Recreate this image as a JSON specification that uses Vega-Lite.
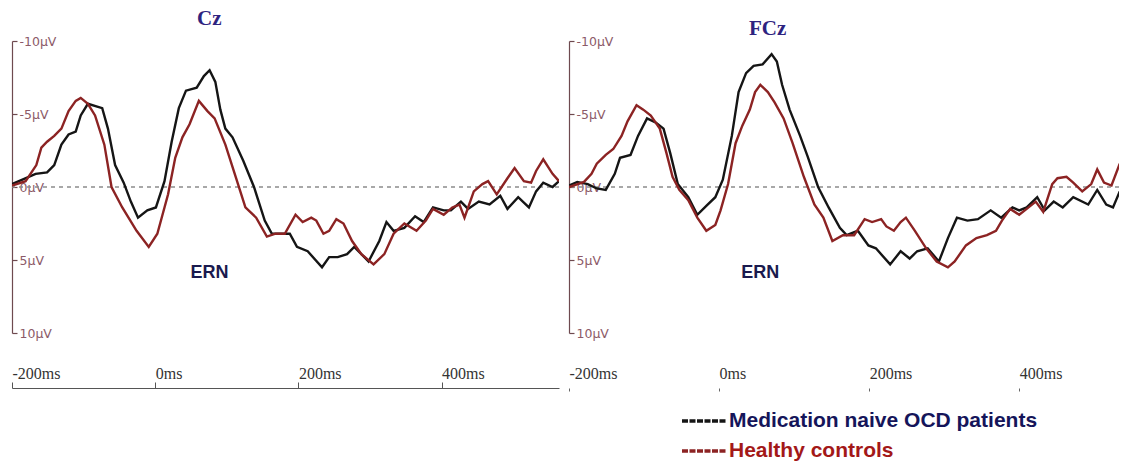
{
  "$schema": "https://vega.github.io/schema/vega-lite/v6.json",
  "background": "white",
  "padding": {"left": 11, "top": 8, "right": 0, "bottom": 0},
  "config": {"view": {"stroke": null}, "font": "Liberation Sans"},
  "datasets": {
    "cz": [
      {"ms": -200, "uv": -0.2, "g": "OCD"}, {"ms": -167, "uv": -0.9, "g": "OCD"}, {"ms": -151, "uv": -1.0, "g": "OCD"}, {"ms": -141, "uv": -1.5, "g": "OCD"},
      {"ms": -131, "uv": -2.9, "g": "OCD"}, {"ms": -121, "uv": -3.6, "g": "OCD"}, {"ms": -111, "uv": -3.8, "g": "OCD"}, {"ms": -104, "uv": -4.9, "g": "OCD"},
      {"ms": -94, "uv": -5.7, "g": "OCD"}, {"ms": -81, "uv": -5.5, "g": "OCD"}, {"ms": -74, "uv": -5.4, "g": "OCD"}, {"ms": -66, "uv": -4.0, "g": "OCD"},
      {"ms": -56, "uv": -1.5, "g": "OCD"}, {"ms": -44, "uv": -0.3, "g": "OCD"}, {"ms": -34, "uv": 1.0, "g": "OCD"}, {"ms": -24, "uv": 2.1, "g": "OCD"},
      {"ms": -11, "uv": 1.6, "g": "OCD"}, {"ms": 1, "uv": 1.4, "g": "OCD"}, {"ms": 13, "uv": -0.4, "g": "OCD"}, {"ms": 23, "uv": -3.1, "g": "OCD"},
      {"ms": 33, "uv": -5.4, "g": "OCD"}, {"ms": 43, "uv": -6.6, "g": "OCD"}, {"ms": 58, "uv": -6.8, "g": "OCD"}, {"ms": 68, "uv": -7.6, "g": "OCD"},
      {"ms": 76, "uv": -8.0, "g": "OCD"}, {"ms": 84, "uv": -7.2, "g": "OCD"}, {"ms": 91, "uv": -5.3, "g": "OCD"}, {"ms": 98, "uv": -4.0, "g": "OCD"},
      {"ms": 108, "uv": -3.4, "g": "OCD"}, {"ms": 123, "uv": -1.8, "g": "OCD"}, {"ms": 138, "uv": 0.0, "g": "OCD"}, {"ms": 153, "uv": 2.3, "g": "OCD"},
      {"ms": 163, "uv": 3.2, "g": "OCD"}, {"ms": 178, "uv": 3.2, "g": "OCD"}, {"ms": 188, "uv": 3.2, "g": "OCD"}, {"ms": 198, "uv": 4.1, "g": "OCD"},
      {"ms": 213, "uv": 4.4, "g": "OCD"}, {"ms": 233, "uv": 5.5, "g": "OCD"}, {"ms": 243, "uv": 4.8, "g": "OCD"}, {"ms": 255, "uv": 4.8, "g": "OCD"},
      {"ms": 268, "uv": 4.6, "g": "OCD"}, {"ms": 278, "uv": 4.1, "g": "OCD"}, {"ms": 298, "uv": 5.1, "g": "OCD"}, {"ms": 313, "uv": 3.7, "g": "OCD"},
      {"ms": 323, "uv": 2.4, "g": "OCD"}, {"ms": 333, "uv": 3.0, "g": "OCD"}, {"ms": 348, "uv": 2.8, "g": "OCD"}, {"ms": 363, "uv": 2.0, "g": "OCD"},
      {"ms": 375, "uv": 2.4, "g": "OCD"}, {"ms": 388, "uv": 1.4, "g": "OCD"}, {"ms": 403, "uv": 1.6, "g": "OCD"}, {"ms": 413, "uv": 1.6, "g": "OCD"},
      {"ms": 427, "uv": 1.0, "g": "OCD"}, {"ms": 437, "uv": 1.5, "g": "OCD"}, {"ms": 452, "uv": 1.0, "g": "OCD"}, {"ms": 467, "uv": 1.2, "g": "OCD"},
      {"ms": 482, "uv": 0.6, "g": "OCD"}, {"ms": 492, "uv": 1.5, "g": "OCD"}, {"ms": 507, "uv": 0.7, "g": "OCD"}, {"ms": 522, "uv": 1.4, "g": "OCD"},
      {"ms": 532, "uv": 0.3, "g": "OCD"}, {"ms": 542, "uv": -0.3, "g": "OCD"}, {"ms": 555, "uv": 0.0, "g": "OCD"}, {"ms": 564, "uv": -0.4, "g": "OCD"},
      {"ms": -200, "uv": -0.1, "g": "HC"}, {"ms": -181, "uv": -0.4, "g": "HC"}, {"ms": -166, "uv": -1.5, "g": "HC"}, {"ms": -159, "uv": -2.7, "g": "HC"},
      {"ms": -151, "uv": -3.1, "g": "HC"}, {"ms": -141, "uv": -3.5, "g": "HC"}, {"ms": -131, "uv": -4.0, "g": "HC"}, {"ms": -121, "uv": -5.2, "g": "HC"},
      {"ms": -111, "uv": -5.9, "g": "HC"}, {"ms": -104, "uv": -6.1, "g": "HC"}, {"ms": -94, "uv": -5.7, "g": "HC"}, {"ms": -84, "uv": -4.9, "g": "HC"},
      {"ms": -71, "uv": -2.9, "g": "HC"}, {"ms": -61, "uv": 0.0, "g": "HC"}, {"ms": -46, "uv": 1.4, "g": "HC"}, {"ms": -26, "uv": 3.0, "g": "HC"},
      {"ms": -9, "uv": 4.1, "g": "HC"}, {"ms": 3, "uv": 3.2, "g": "HC"}, {"ms": 18, "uv": 0.5, "g": "HC"}, {"ms": 28, "uv": -2.0, "g": "HC"},
      {"ms": 38, "uv": -3.4, "g": "HC"}, {"ms": 48, "uv": -4.3, "g": "HC"}, {"ms": 61, "uv": -5.9, "g": "HC"}, {"ms": 73, "uv": -5.2, "g": "HC"},
      {"ms": 83, "uv": -4.7, "g": "HC"}, {"ms": 98, "uv": -2.9, "g": "HC"}, {"ms": 113, "uv": -0.6, "g": "HC"}, {"ms": 126, "uv": 1.4, "g": "HC"},
      {"ms": 141, "uv": 2.1, "g": "HC"}, {"ms": 156, "uv": 3.4, "g": "HC"}, {"ms": 168, "uv": 3.2, "g": "HC"}, {"ms": 181, "uv": 3.2, "g": "HC"},
      {"ms": 196, "uv": 1.9, "g": "HC"}, {"ms": 206, "uv": 2.4, "g": "HC"}, {"ms": 218, "uv": 2.1, "g": "HC"}, {"ms": 225, "uv": 2.3, "g": "HC"},
      {"ms": 235, "uv": 3.2, "g": "HC"}, {"ms": 243, "uv": 3.0, "g": "HC"}, {"ms": 253, "uv": 2.2, "g": "HC"}, {"ms": 263, "uv": 2.5, "g": "HC"},
      {"ms": 275, "uv": 3.7, "g": "HC"}, {"ms": 288, "uv": 4.6, "g": "HC"}, {"ms": 305, "uv": 5.3, "g": "HC"}, {"ms": 320, "uv": 4.6, "g": "HC"},
      {"ms": 333, "uv": 3.2, "g": "HC"}, {"ms": 348, "uv": 2.5, "g": "HC"}, {"ms": 365, "uv": 3.0, "g": "HC"}, {"ms": 378, "uv": 2.3, "g": "HC"},
      {"ms": 388, "uv": 1.5, "g": "HC"}, {"ms": 403, "uv": 1.9, "g": "HC"}, {"ms": 415, "uv": 1.4, "g": "HC"}, {"ms": 425, "uv": 1.2, "g": "HC"},
      {"ms": 432, "uv": 2.1, "g": "HC"}, {"ms": 445, "uv": 0.3, "g": "HC"}, {"ms": 457, "uv": -0.2, "g": "HC"}, {"ms": 465, "uv": -0.4, "g": "HC"},
      {"ms": 477, "uv": 0.5, "g": "HC"}, {"ms": 492, "uv": -0.6, "g": "HC"}, {"ms": 502, "uv": -1.3, "g": "HC"}, {"ms": 515, "uv": -0.4, "g": "HC"},
      {"ms": 525, "uv": -0.3, "g": "HC"}, {"ms": 532, "uv": -1.1, "g": "HC"}, {"ms": 542, "uv": -1.9, "g": "HC"}, {"ms": 555, "uv": -0.9, "g": "HC"},
      {"ms": 564, "uv": -0.4, "g": "HC"}
    ],
    "fcz": [
      {"ms": -200, "uv": -0.1, "g": "OCD"}, {"ms": -189, "uv": -0.35, "g": "OCD"}, {"ms": -175, "uv": -0.2, "g": "OCD"}, {"ms": -163, "uv": 0.1, "g": "OCD"},
      {"ms": -151, "uv": 0.2, "g": "OCD"}, {"ms": -139, "uv": -0.9, "g": "OCD"}, {"ms": -132, "uv": -2.0, "g": "OCD"}, {"ms": -118, "uv": -2.2, "g": "OCD"},
      {"ms": -108, "uv": -3.5, "g": "OCD"}, {"ms": -96, "uv": -4.7, "g": "OCD"}, {"ms": -84, "uv": -4.4, "g": "OCD"}, {"ms": -74, "uv": -4.0, "g": "OCD"},
      {"ms": -65, "uv": -2.3, "g": "OCD"}, {"ms": -55, "uv": -0.2, "g": "OCD"}, {"ms": -41, "uv": 0.7, "g": "OCD"}, {"ms": -29, "uv": 1.9, "g": "OCD"},
      {"ms": -17, "uv": 1.3, "g": "OCD"}, {"ms": -5, "uv": 0.7, "g": "OCD"}, {"ms": 5, "uv": -0.5, "g": "OCD"}, {"ms": 17, "uv": -3.5, "g": "OCD"},
      {"ms": 26, "uv": -6.5, "g": "OCD"}, {"ms": 36, "uv": -7.8, "g": "OCD"}, {"ms": 46, "uv": -8.3, "g": "OCD"}, {"ms": 58, "uv": -8.4, "g": "OCD"},
      {"ms": 70, "uv": -9.1, "g": "OCD"}, {"ms": 77, "uv": -8.6, "g": "OCD"}, {"ms": 84, "uv": -7.0, "g": "OCD"}, {"ms": 94, "uv": -5.3, "g": "OCD"},
      {"ms": 108, "uv": -3.5, "g": "OCD"}, {"ms": 118, "uv": -2.1, "g": "OCD"}, {"ms": 132, "uv": 0.0, "g": "OCD"}, {"ms": 146, "uv": 1.4, "g": "OCD"},
      {"ms": 161, "uv": 2.8, "g": "OCD"}, {"ms": 170, "uv": 3.3, "g": "OCD"}, {"ms": 185, "uv": 3.0, "g": "OCD"}, {"ms": 199, "uv": 4.0, "g": "OCD"},
      {"ms": 209, "uv": 4.2, "g": "OCD"}, {"ms": 228, "uv": 5.3, "g": "OCD"}, {"ms": 242, "uv": 4.4, "g": "OCD"}, {"ms": 254, "uv": 4.9, "g": "OCD"},
      {"ms": 264, "uv": 4.4, "g": "OCD"}, {"ms": 278, "uv": 4.2, "g": "OCD"}, {"ms": 293, "uv": 5.1, "g": "OCD"}, {"ms": 305, "uv": 3.5, "g": "OCD"},
      {"ms": 317, "uv": 2.1, "g": "OCD"}, {"ms": 331, "uv": 2.3, "g": "OCD"}, {"ms": 345, "uv": 2.2, "g": "OCD"}, {"ms": 362, "uv": 1.6, "g": "OCD"},
      {"ms": 376, "uv": 2.1, "g": "OCD"}, {"ms": 391, "uv": 1.4, "g": "OCD"}, {"ms": 400, "uv": 1.6, "g": "OCD"}, {"ms": 410, "uv": 1.4, "g": "OCD"},
      {"ms": 424, "uv": 0.7, "g": "OCD"}, {"ms": 434, "uv": 1.6, "g": "OCD"}, {"ms": 446, "uv": 1.0, "g": "OCD"}, {"ms": 458, "uv": 1.4, "g": "OCD"},
      {"ms": 472, "uv": 0.7, "g": "OCD"}, {"ms": 492, "uv": 1.2, "g": "OCD"}, {"ms": 504, "uv": 0.2, "g": "OCD"}, {"ms": 516, "uv": 1.2, "g": "OCD"},
      {"ms": 525, "uv": 1.4, "g": "OCD"}, {"ms": 534, "uv": 0.3, "g": "OCD"},
      {"ms": -200, "uv": 0.0, "g": "HC"}, {"ms": -180, "uv": -0.35, "g": "HC"}, {"ms": -170, "uv": -0.9, "g": "HC"}, {"ms": -163, "uv": -1.6, "g": "HC"},
      {"ms": -151, "uv": -2.2, "g": "HC"}, {"ms": -141, "uv": -2.6, "g": "HC"}, {"ms": -130, "uv": -3.5, "g": "HC"}, {"ms": -122, "uv": -4.5, "g": "HC"},
      {"ms": -110, "uv": -5.6, "g": "HC"}, {"ms": -101, "uv": -5.3, "g": "HC"}, {"ms": -91, "uv": -4.9, "g": "HC"}, {"ms": -79, "uv": -4.0, "g": "HC"},
      {"ms": -70, "uv": -2.3, "g": "HC"}, {"ms": -62, "uv": -0.7, "g": "HC"}, {"ms": -53, "uv": 0.2, "g": "HC"}, {"ms": -41, "uv": 0.9, "g": "HC"},
      {"ms": -29, "uv": 2.1, "g": "HC"}, {"ms": -17, "uv": 3.0, "g": "HC"}, {"ms": -5, "uv": 2.6, "g": "HC"}, {"ms": 2, "uv": 1.6, "g": "HC"},
      {"ms": 12, "uv": -0.2, "g": "HC"}, {"ms": 22, "uv": -3.0, "g": "HC"}, {"ms": 31, "uv": -4.2, "g": "HC"}, {"ms": 41, "uv": -5.3, "g": "HC"},
      {"ms": 48, "uv": -6.5, "g": "HC"}, {"ms": 55, "uv": -7.0, "g": "HC"}, {"ms": 65, "uv": -6.5, "g": "HC"}, {"ms": 74, "uv": -5.8, "g": "HC"},
      {"ms": 86, "uv": -4.7, "g": "HC"}, {"ms": 98, "uv": -3.0, "g": "HC"}, {"ms": 113, "uv": -0.7, "g": "HC"}, {"ms": 127, "uv": 1.2, "g": "HC"},
      {"ms": 139, "uv": 2.1, "g": "HC"}, {"ms": 151, "uv": 3.7, "g": "HC"}, {"ms": 165, "uv": 3.3, "g": "HC"}, {"ms": 180, "uv": 3.3, "g": "HC"},
      {"ms": 194, "uv": 2.2, "g": "HC"}, {"ms": 204, "uv": 2.4, "g": "HC"}, {"ms": 216, "uv": 2.2, "g": "HC"}, {"ms": 223, "uv": 2.7, "g": "HC"},
      {"ms": 233, "uv": 3.0, "g": "HC"}, {"ms": 242, "uv": 2.4, "g": "HC"}, {"ms": 249, "uv": 2.1, "g": "HC"}, {"ms": 261, "uv": 3.0, "g": "HC"},
      {"ms": 276, "uv": 4.2, "g": "HC"}, {"ms": 290, "uv": 5.1, "g": "HC"}, {"ms": 305, "uv": 5.5, "g": "HC"}, {"ms": 314, "uv": 5.1, "g": "HC"},
      {"ms": 329, "uv": 4.0, "g": "HC"}, {"ms": 343, "uv": 3.5, "g": "HC"}, {"ms": 357, "uv": 3.3, "g": "HC"}, {"ms": 369, "uv": 3.0, "g": "HC"},
      {"ms": 377, "uv": 2.3, "g": "HC"}, {"ms": 388, "uv": 1.5, "g": "HC"}, {"ms": 400, "uv": 1.9, "g": "HC"}, {"ms": 410, "uv": 1.5, "g": "HC"},
      {"ms": 422, "uv": 1.0, "g": "HC"}, {"ms": 432, "uv": 1.7, "g": "HC"}, {"ms": 444, "uv": -0.2, "g": "HC"}, {"ms": 451, "uv": -0.6, "g": "HC"},
      {"ms": 463, "uv": -0.7, "g": "HC"}, {"ms": 472, "uv": -0.3, "g": "HC"}, {"ms": 484, "uv": 0.3, "g": "HC"}, {"ms": 496, "uv": -0.2, "g": "HC"},
      {"ms": 504, "uv": -1.2, "g": "HC"}, {"ms": 513, "uv": -0.3, "g": "HC"}, {"ms": 523, "uv": -0.1, "g": "HC"}, {"ms": 534, "uv": -1.6, "g": "HC"}
    ]
  },
  "spacing": 8,
  "resolve": {
    "scale": {"x": "independent", "y": "independent", "color": "shared"},
    "legend": {"color": "shared"}
  },
  "hconcat": [
    {
      "width": 547,
      "height": 292,
      "title": {"text": "Cz", "anchor": "start", "frame": "group", "dx": 185, "offset": -11, "font": "Liberation Serif", "fontSize": 21, "fontWeight": "bold", "color": "#2e2380", "baseline": "alphabetic"},
      "layer": [
        {
          "data": {"values": [{"uv": 0}]},
          "mark": {"type": "rule", "color": "#8c8c8c", "strokeDash": [4, 4], "strokeWidth": 1.5},
          "encoding": {"y": {"field": "uv", "type": "quantitative", "scale": {"domain": [-10, 10], "reverse": true}}}
        },
        {
          "data": {"name": "cz"},
          "mark": {"type": "line", "strokeWidth": 2.4, "clip": true},
          "encoding": {
            "x": {"field": "ms", "type": "quantitative", "scale": {"domain": [-200, 564], "nice": false, "zero": false},
              "axis": {"values": [-200, 0, 200, 400], "labelExpr": "datum.value + 'ms'", "orient": "bottom", "offset": 55, "grid": false, "title": null,
                "domainColor": "#555555", "tickColor": "#555555", "tickSize": -6, "labelPadding": -1, "labelBaseline": "bottom", "labelAlign": "left",
                "labelFlush": false, "labelFont": "Liberation Serif", "labelFontSize": 16, "labelColor": "#333333",
                "encode": {"labels": {"update": {"dx": {"signal": "datum.value === -200 ? -3 : -9"}}}}}},
            "y": {"field": "uv", "type": "quantitative", "scale": {"domain": [-10, 10], "reverse": true, "nice": false},
              "axis": {"values": [-10, -5, 0, 5, 10], "labelExpr": "datum.value + 'μV'", "orient": "left", "grid": false, "title": null,
                "domainColor": "#6e4a4f", "domainWidth": 1.2, "tickColor": "#6e4a4f", "tickWidth": 1.2, "tickSize": -5, "labelAlign": "left",
                "labelPadding": -2, "labelBaseline": "middle", "labelFlush": false, "labelFont": "DejaVu Sans", "labelFontSize": 12.5, "labelColor": "#8c5a68",
                "encode": {"labels": {"update": {"dy": {"signal": "datum.value === 0 ? 13 : 0"}}}}}},
            "color": {"field": "g", "type": "nominal", "scale": {"domain": ["OCD", "HC"], "range": ["#151515", "#8c2323"]},
              "legend": {"title": null, "orient": "none", "legendX": 668, "legendY": 368, "symbolType": "stroke", "symbolSize": 1936,
                "symbolStrokeWidth": 3.5, "symbolDash": [6, 1.5], "labelFont": "Liberation Sans", "labelFontSize": 21, "labelFontWeight": "bold",
                "labelLimit": 500, "labelOffset": 1, "rowPadding": 6, "clipHeight": 24,
                "labelExpr": "datum.value == 'OCD' ? 'Medication naive OCD patients' : 'Healthy controls'",
                "encode": {"labels": {"update": {"fill": {"signal": "datum.value == 'OCD' ? '#15155a' : '#a31818'"}}}}}}
          }
        },
        {
          "data": {"values": [{"ms": 76, "uv": 5.9, "t": "ERN"}]},
          "mark": {"type": "text", "font": "Liberation Sans", "fontSize": 18, "fontWeight": "bold", "color": "#1a1a4e"},
          "encoding": {
            "x": {"field": "ms", "type": "quantitative"},
            "y": {"field": "uv", "type": "quantitative"},
            "text": {"field": "t"}
          }
        }
      ]
    },
    {
      "width": 550,
      "height": 292,
      "title": {"text": "FCz", "anchor": "start", "frame": "group", "dx": 180, "offset": -21, "font": "Liberation Serif", "fontSize": 21, "fontWeight": "bold", "color": "#2e2380", "baseline": "alphabetic"},
      "layer": [
        {
          "data": {"values": [{"uv": 0}]},
          "mark": {"type": "rule", "color": "#8c8c8c", "strokeDash": [4, 4], "strokeWidth": 1.5},
          "encoding": {"y": {"field": "uv", "type": "quantitative", "scale": {"domain": [-10, 10], "reverse": true}}}
        },
        {
          "data": {"name": "fcz"},
          "mark": {"type": "line", "strokeWidth": 2.4, "clip": true},
          "encoding": {
            "x": {"field": "ms", "type": "quantitative", "scale": {"domain": [-200, 533], "nice": false, "zero": false},
              "axis": {"values": [-200, 0, 200, 400], "labelExpr": "datum.value + 'ms'", "orient": "bottom", "offset": 55, "grid": false, "title": null,
                "domain": false, "tickColor": "#666666", "tickSize": 3, "labelPadding": -10, "labelBaseline": "bottom", "labelAlign": "left",
                "labelFlush": false, "labelFont": "Liberation Serif", "labelFontSize": 16, "labelColor": "#333333",
                "encode": {"labels": {"update": {"dx": {"signal": "datum.value === -200 ? 3 : -3"}}}}}},
            "y": {"field": "uv", "type": "quantitative", "scale": {"domain": [-10, 10], "reverse": true, "nice": false},
              "axis": {"values": [-10, -5, 0, 5, 10], "labelExpr": "datum.value + 'μV'", "orient": "left", "grid": false, "title": null,
                "domainColor": "#6e4a4f", "domainWidth": 1.2, "tickColor": "#6e4a4f", "tickWidth": 1.2, "tickSize": -5, "labelAlign": "left",
                "labelPadding": -2, "labelBaseline": "middle", "labelFlush": false, "labelFont": "DejaVu Sans", "labelFontSize": 12.5, "labelColor": "#8c5a68",
                "encode": {"labels": {"update": {"dy": {"signal": "datum.value === 0 ? 13 : 0"}}}}}},
            "color": {"field": "g", "type": "nominal", "scale": {"domain": ["OCD", "HC"], "range": ["#151515", "#8c2323"]},
              "legend": {"title": null, "orient": "none", "legendX": 668, "legendY": 368, "symbolType": "stroke", "symbolSize": 1936,
                "symbolStrokeWidth": 3.5, "symbolDash": [6, 1.5], "labelFont": "Liberation Sans", "labelFontSize": 21, "labelFontWeight": "bold",
                "labelLimit": 500, "labelOffset": 1, "rowPadding": 6, "clipHeight": 24,
                "labelExpr": "datum.value == 'OCD' ? 'Medication naive OCD patients' : 'Healthy controls'",
                "encode": {"labels": {"update": {"fill": {"signal": "datum.value == 'OCD' ? '#15155a' : '#a31818'"}}}}}}
          }
        },
        {
          "data": {"values": [{"ms": 55, "uv": 5.9, "t": "ERN"}]},
          "mark": {"type": "text", "font": "Liberation Sans", "fontSize": 18, "fontWeight": "bold", "color": "#1a1a4e"},
          "encoding": {
            "x": {"field": "ms", "type": "quantitative"},
            "y": {"field": "uv", "type": "quantitative"},
            "text": {"field": "t"}
          }
        }
      ]
    }
  ]
}
